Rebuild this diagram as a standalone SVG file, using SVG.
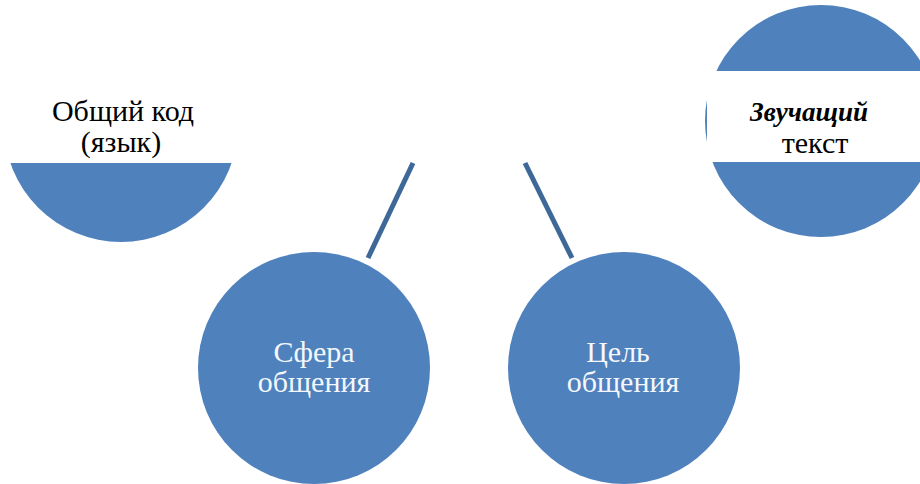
<svg xmlns="http://www.w3.org/2000/svg" width="920" height="484" viewBox="0 0 920 484">
<style>
.node{fill:#4F81BD}
.mask{fill:#FFFFFF}
.dark{font-family:'Liberation Serif','Tinos','DejaVu Serif',serif;font-size:30px;fill:#000000;text-anchor:middle}
.light{font-family:'Liberation Serif','Tinos','DejaVu Serif',serif;font-size:30px;fill:#F4F7FB;text-anchor:middle}
.em{font-size:27px;font-weight:bold;font-style:italic}
.conn{stroke:#3D6898;stroke-width:5;fill:none}
</style>
<rect width="920" height="484" fill="#FFFFFF"/>
<g id="connectors">
<line class="conn" x1="413" y1="163" x2="368" y2="258"/>
<line class="conn" x1="525" y1="163" x2="572" y2="258"/>
</g>
<g id="node-code">
<circle class="node" cx="121" cy="125" r="117"/>
<rect class="mask" x="0" y="0" width="250" height="163"/>
<text class="dark" x="123" y="121">Общий код</text>
<text class="dark" x="121" y="152">(язык)</text>
</g>
<g id="node-text">
<circle class="node" cx="821" cy="121" r="116"/>
<rect class="mask" x="707" y="71" width="213" height="91"/>
<text class="dark em" x="809" y="121">Звучащий</text>
<text class="dark" x="815" y="153">текст</text>
</g>
<g id="node-sphere">
<circle class="node" cx="314" cy="368" r="116"/>
<text class="light" x="314" y="362">Сфера</text>
<text class="light" x="314" y="392">общения</text>
</g>
<g id="node-goal">
<circle class="node" cx="624" cy="368" r="116"/>
<text class="light" x="618" y="362">Цель</text>
<text class="light" x="623" y="392">общения</text>
</g>
</svg>
